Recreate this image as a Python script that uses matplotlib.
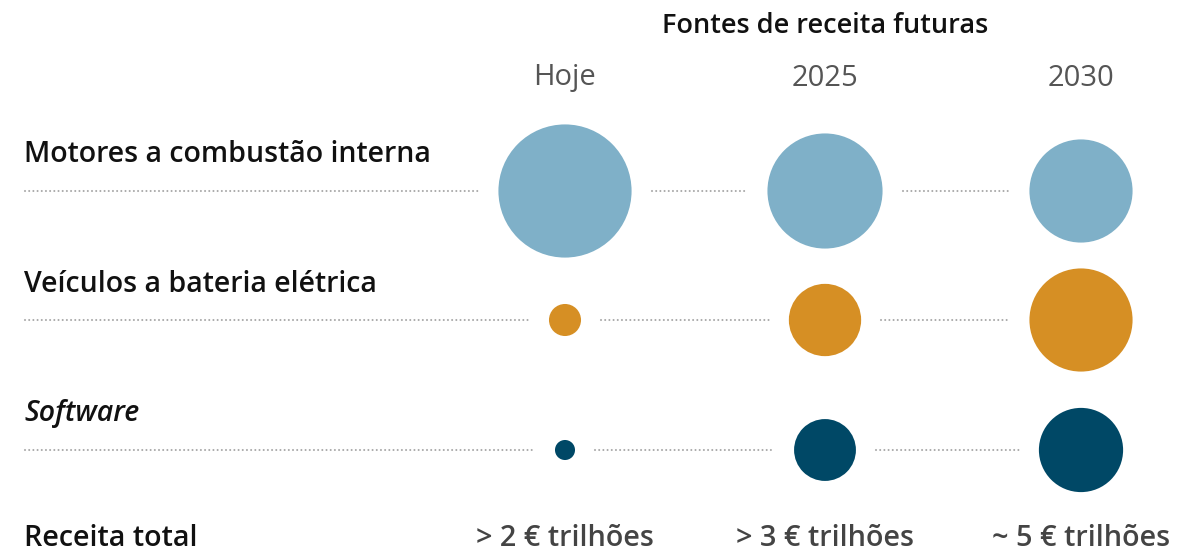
import numpy as np
import matplotlib
matplotlib.use("Agg")
import matplotlib.pyplot as plt
from matplotlib.patches import Circle

# === DATA ===
title = "Fontes de receita futuras"
periods = ["Hoje", "2025", "2030"]
sources = ["Motores a combustão interna", "Veículos a bateria elétrica", "Software"]
# relative revenue per source and period
ice_rev = [1.90, 1.42, 1.14]
bev_rev = [0.11, 0.56, 1.14]
software_rev = [0.043, 0.41, 0.76]
totals = ["> 2 € trilhões", "> 3 € trilhões", "~ 5 € trilhões"]
total_label = "Receita total"

colors = ["#7fb0c8", "#d68f24", "#004866"]

# === LAYOUT (pixels) ===
W, H = 1195, 551
col_x = [565, 825, 1081]
row_y = [191, 320, 450]
radius_scale = 48.3  # radius = scale * sqrt(value)
line_start = 25
gap = 20

plt.rcParams['font.family'] = ['Open Sans', 'DejaVu Sans']

fig = plt.figure(figsize=(W / 100, H / 100), dpi=100)
ax = fig.add_axes([0, 0, 1, 1])
ax.set_xlim(0, W)
ax.set_ylim(H, 0)
ax.set_aspect('equal')
ax.axis('off')

series = [ice_rev, bev_rev, software_rev]
for i, (name, vals) in enumerate(zip(sources, series)):
    y = row_y[i]
    radii = [radius_scale * np.sqrt(v) for v in vals]
    # dotted connectors between bubbles
    x0 = line_start
    for cx, r in zip(col_x, radii):
        ax.plot([x0, cx - r - gap], [y, y], ls=(0, (0.01, 2.0)), lw=1.5,
                color='#a8a8a8', dash_capstyle='round')
        x0 = cx + r + gap
    for cx, r in zip(col_x, radii):
        ax.add_patch(Circle((cx, y), r, color=colors[i], lw=0))
    ax.text(line_start - 1, y - 36, name, fontsize=20.5, fontweight='semibold',
            style='italic' if name == "Software" else 'normal',
            ha='left', va='center', color='#111111')

ax.text(825, 26, title, fontsize=19.5, fontweight='semibold', ha='center',
        va='center', color='#111111')
for cx, p in zip(col_x, periods):
    ax.text(cx, 78, p, fontsize=21, ha='center', va='center', color='#555555')

ax.text(line_start - 1, 538, total_label, fontsize=20.7, fontweight='semibold',
        ha='left', va='center', color='#111111')
for cx, t in zip(col_x, totals):
    ax.text(cx, 538, t, fontsize=20.7, fontweight='semibold', ha='center',
            va='center', color='#444444')

fig.savefig("out.png", dpi=100)
